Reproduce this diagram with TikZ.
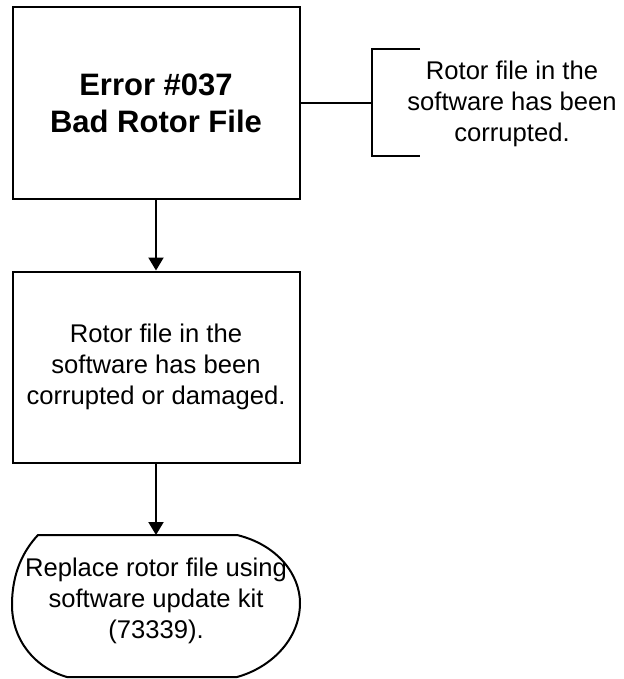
\documentclass[tikz,border=0pt]{standalone}
\usepackage{fontspec}
\setmainfont{Liberation Sans}
\usetikzlibrary{arrows.meta}
\tikzset{
  box/.style={draw, line width=2pt, minimum width=287pt, minimum height=191pt,
    inner sep=0pt, align=center, font=\fontsize{25.6}{31}\selectfont},
  title/.style={font=\fontsize{31}{37}\selectfont\bfseries},
  note/.style={align=center, inner sep=0pt, font=\fontsize{25.6}{31}\selectfont},
  flow/.style={line width=2pt, -{Triangle[length=13pt,width=15pt]}},
  link/.style={line width=2pt}
}
\begin{document}
\begin{tikzpicture}[x=1pt, y=-1pt]
  \useasboundingbox (0,0) rectangle (623,679);
  % Boxes
  \node[box, title] (error) at (156,103) {Error \#037\\Bad Rotor File};
  \node[box] (cause) at (156,367) {Rotor file in the\\software has been\\corrupted or damaged.};
  % Terminal
  \draw[link] (38,535) -- (237,535)
    .. controls (278,545) and (300,575) .. (300,603)
    .. controls (300,640) and (270,668) .. (237,677)
    -- (67,677)
    .. controls (35,668) and (12,640) .. (12,605)
    .. controls (12,572) and (24,550) .. (38,535) -- cycle;
  \coordinate (endtop) at (156,535);
  \node[note] (replace) at (156,601) {Replace rotor file using\\software update kit\\(73339).};
  % Bracket note
  \coordinate (brk) at (372,103);
  \coordinate (brktop) at (420,49);
  \coordinate (brkbot) at (420,156);
  \draw[link] (error.east) -- (brk);
  \draw[link] (brktop) -- (372,49) -- (372,156) -- (brkbot);
  \node[note] (corrupt) at (512,104) {Rotor file in the\\software has been\\corrupted.};
  % Arrows
  \draw[flow] (error) -- (cause);
  \draw[flow] (cause) -- (endtop);
\end{tikzpicture}
\end{document}
